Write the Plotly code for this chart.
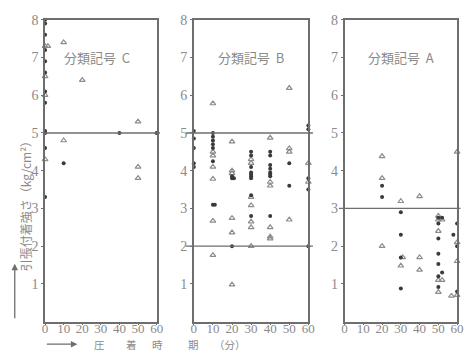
import plotly.graph_objects as go

# Panel C (分類記号 C)
c_dot_x = [0, 0, 0, 0, 0, 0, 0, 0, 0, 0, 0, 0, 10, 40, 60]
c_dot_y = [8.0, 7.9, 7.6, 7.2, 6.9, 6.6, 6.1, 5.8, 5.05, 5.0, 4.6, 3.3, 4.2, 5.0, 5.0]
c_tri_x = [0, 1.5, 0, 0, 0, 10, 20, 50, 10, 50, 50]
c_tri_y = [7.3, 7.3, 6.5, 6.0, 4.3, 7.4, 6.4, 5.3, 4.8, 4.1, 3.8]

# Panel B (分類記号 B)
b_dot_x = [0, 0, 0, 0, 0,
           10, 10, 10, 10, 10, 10, 10, 11,
           20, 20, 21, 20,
           30, 30, 30, 30, 30, 30, 30, 30, 30,
           40, 40, 40, 40, 40, 40, 40, 40,
           50, 50,
           60, 60, 60, 60, 60]
b_dot_y = [5.05, 4.85, 4.6, 4.2, 4.1,
           5.0, 4.9, 4.8, 4.7, 4.6, 4.25, 3.1, 3.1,
           3.85, 3.8, 3.8, 2.0,
           4.5, 4.4, 4.1, 3.95, 3.9, 3.85, 3.8, 3.35, 2.8,
           4.5, 4.4, 4.15, 4.05, 3.95, 3.9, 3.85, 2.8,
           4.2, 3.6,
           5.2, 5.1, 3.8, 3.5, 2.0]
b_tri_x = [10, 10, 10, 10, 10, 10, 10,
           20, 20, 20, 20, 20, 20,
           30, 30, 30, 30, 30, 30, 30,
           40, 40, 40, 40, 40, 40,
           50, 50, 50, 50,
           60, 60]
b_tri_y = [5.78, 4.5, 4.4, 4.1, 3.78, 2.67, 1.76,
           4.77, 4.0, 3.93, 2.74, 2.36, 0.98,
           4.3, 4.2, 3.3, 3.08, 2.65, 2.5, 2.0,
           4.87, 3.7, 3.6, 2.5, 2.25, 2.2,
           6.19, 4.59, 4.5, 2.7,
           4.2, 3.7]

# Panel A (分類記号 A)
a_dot_x = [20, 20, 30, 30, 30, 30, 50, 50, 50, 50, 50, 50, 50, 52, 52, 60, 58, 60, 60]
a_dot_y = [3.6, 3.3, 2.9, 2.3, 1.7, 0.88, 2.75, 2.6, 2.2, 1.8, 1.53, 1.2, 0.92, 2.75, 1.3,
           2.6, 2.3, 2.0, 0.8]
a_tri_x = [20, 20, 20, 30, 31, 30, 40, 40, 40, 50, 50, 50, 50, 50, 52, 52, 60, 60, 60, 57, 60]
a_tri_y = [4.38, 3.8, 2.0, 3.19, 1.7, 1.48, 3.32, 1.7, 1.37, 2.8, 2.7, 2.4, 1.1, 0.78, 2.7, 1.1,
           4.5, 1.6, 0.7, 0.68, 2.1]

# Criterion lines per panel
c_lines = [5.0]
b_lines = [5.0, 2.0]
a_lines = [3.0]

panel_names = ["分類記号  C", "分類記号  B", "分類記号  A"]
x_ticks = [0, 10, 20, 30, 40, 50, 60]
y_ticks = [1, 2, 3, 4, 5, 6, 7, 8]

W, H = 469, 352
ink = "#3a3a3a"
grey = "#8a8a8a"
line_grey = "#6e6e6e"

x_doms = [(43 / W, 157 / W), (195 / W, 312 / W), (349 / W, 464 / W)]
y_dom = (1 - 321 / H, 1 - 13 / H)

fig = go.Figure()

panels = [
    (c_dot_x, c_dot_y, c_tri_x, c_tri_y, c_lines, (-0.01, 1.03)),
    (b_dot_x, b_dot_y, b_tri_x, b_tri_y, b_lines, (-0.07, 1.04)),
    (a_dot_x, a_dot_y, a_tri_x, a_tri_y, a_lines, (-0.05, 1.03)),
]

for i, (dx, dy, tx, ty, lines, ext) in enumerate(panels):
    n = "" if i == 0 else str(i + 1)
    xa, ya = "x" + n, "y" + n
    fig.add_trace(go.Scatter(
        x=tx, y=ty, mode="markers", xaxis=xa, yaxis=ya, cliponaxis=False,
        marker=dict(symbol="triangle-up-open", size=5, color="#8c8c8c",
                    line=dict(width=1.2, color="#8c8c8c")),
        showlegend=False))
    fig.add_trace(go.Scatter(
        x=dx, y=dy, mode="markers", xaxis=xa, yaxis=ya, cliponaxis=False,
        marker=dict(symbol="circle", size=4, color=ink),
        showlegend=False))
    for yv in lines:
        fig.add_shape(type="line", xref=xa + " domain", yref=ya,
                      x0=ext[0], x1=ext[1], y0=yv, y1=yv,
                      line=dict(color=line_grey, width=1.4))
    fig.add_annotation(x=28 if i == 0 else 30, y=7.0, xref=xa, yref=ya,
                       text=panel_names[i], showarrow=False,
                       font=dict(family="Noto Sans CJK JP", size=13, color=grey))
    axis_common = dict(showline=True, linecolor=line_grey, linewidth=1.5, mirror=True,
                       showgrid=False, zeroline=False, ticks="outside", ticklen=2,
                       tickcolor=line_grey, tickwidth=1)
    fig.update_layout(**{
        ("xaxis" + n): dict(domain=list(x_doms[i]), range=[0, 60], tickvals=x_ticks,
                            anchor=ya, ticklabelstandoff=-8,
                            tickfont=dict(family="Liberation Serif", size=13, color=grey),
                            **axis_common),
        ("yaxis" + n): dict(domain=list(y_dom), range=[0, 8], tickvals=y_ticks,
                            anchor=xa, ticklabelstandoff=0,
                            tickfont=dict(family="Liberation Serif", size=14, color=grey),
                            **axis_common),
    })

# Axis captions with arrows
fig.add_annotation(x=12 / W, y=1 - 200 / H, xref="paper", yref="paper",
                   text="引張付着強さ（kg/cm²）", textangle=-90, showarrow=False,
                   font=dict(family="Noto Sans CJK JP", size=12, color=grey))
fig.add_annotation(x=12 / W, y=1 - 262 / H, ax=0, ay=56,
                   xref="paper", yref="paper", axref="pixel", ayref="pixel",
                   text="", showarrow=True, arrowhead=2, arrowsize=1, arrowwidth=1.3,
                   arrowcolor=line_grey)
fig.add_annotation(x=76 / W, y=1 - 344 / H, ax=-32, ay=0,
                   xref="paper", yref="paper", axref="pixel", ayref="pixel",
                   text="", showarrow=True, arrowhead=2, arrowsize=1, arrowwidth=1.3,
                   arrowcolor=line_grey)
for ch, px in [("圧", 92), ("着", 125), ("時", 158), ("期", 195), ("（分）", 232)]:
    fig.add_annotation(x=px / W, y=0, yanchor="bottom", yshift=-1, borderpad=0,
                       xref="paper", yref="paper",
                       text=ch, showarrow=False,
                       font=dict(family="Noto Sans CJK JP", size=10.5, color=grey))

fig.update_layout(width=W, height=H, margin=dict(l=0, r=0, t=0, b=0),
                  paper_bgcolor="white", plot_bgcolor="white")

fig.write_html("out.html")
